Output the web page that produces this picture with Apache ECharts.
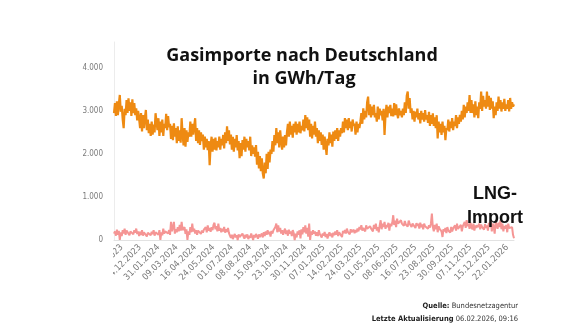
<!DOCTYPE html>
<html>
<head>
<meta charset="utf-8">
<script src="https://cdn.jsdelivr.net/npm/echarts@6/dist/echarts.min.js"></script>
<style>
  html, body { margin: 0; padding: 0; background: #ffffff; }
  #chart { width: 580px; height: 326px; }
</style>
</head>
<body>
<div id="chart"></div>
<script>
// Daily series sampled every second day, first sample on 31.10.2023
const startDate = '2023-10-31';
const stepDays = 2;

// Dates shown on the x axis
const tickLabels = [
  '16.11.2023', '24.12.2023', '31.01.2024', '09.03.2024', '16.04.2024', '24.05.2024',
  '01.07.2024', '08.08.2024', '15.09.2024', '23.10.2024', '30.11.2024', '07.01.2025',
  '14.02.2025', '24.03.2025', '01.05.2025', '08.06.2025', '16.07.2025', '23.08.2025',
  '30.09.2025', '07.11.2025', '15.12.2025', '22.01.2026'
];

// Total gas imports, GWh per day
const gasImport = [
  2950,3180,2880,3220,2900,3150,3370,2980,3120,2800,
  2600,3050,2900,3250,2950,3290,3000,3200,2880,3270,
  2950,3180,2900,3060,2780,3000,2820,2600,2950,2520,
  2900,2600,2850,3020,2550,2800,2480,2700,2420,2750,
  2450,2680,2500,2945,2900,2550,2830,2420,2750,2500,
  2800,2420,2700,2600,2930,2550,2880,2620,2700,2350,
  2650,2320,2710,2400,2600,2250,2640,2300,2550,2260,
  2830,2450,2200,2600,2170,2550,2280,2500,2400,2750,
  2400,2700,2450,2650,2830,2300,2600,2250,2550,2210,
  2500,2300,2450,2100,2400,2150,2350,2090,2300,1740,
  2200,2400,2050,2350,2100,2380,2080,2300,2150,2400,
  2100,2350,2200,2440,2130,2500,2250,2640,2300,2550,
  2220,2450,2100,2400,2050,2350,2150,2440,2080,2300,
  1900,2250,1950,2320,2100,2400,2050,2350,2150,2300,
  2080,2400,1950,2200,2000,2150,1935,2207,1750,2050,
  1664,1950,1600,1900,1550,1430,1800,1550,2000,1650,
  2050,1800,2100,2000,2300,2050,2440,2200,2600,2250,
  2500,2150,2550,2300,2100,2400,2150,2440,2200,2500,
  2700,2400,2750,2450,2650,2380,2700,2500,2750,2450,
  2700,2500,2750,2480,2650,2550,2800,2520,2905,2600,
  2850,2550,2800,2400,2700,2360,2650,2450,2750,2400,
  2600,2250,2550,2300,2500,2210,2450,2100,2400,2200,
  1975,2350,2200,2500,2250,2450,2170,2520,2300,2550,
  2350,2600,2300,2550,2400,2600,2480,2750,2500,2830,
  2600,2800,2550,2830,2600,2750,2520,2800,2650,2700,
  2450,2750,2500,2700,2600,2750,2950,2700,3060,2800,
  3000,2850,3200,3330,2900,3150,2850,3100,2900,3140,
  2850,2950,2750,3100,2800,3050,2900,3000,2780,3050,
  2440,2900,3140,2850,3100,2950,3140,2880,3050,2870,
  3180,2900,3150,2950,2830,3060,2900,3000,2850,3050,
  2900,3200,2950,3350,3450,3050,3300,2950,3060,2800,
  3000,2750,2980,2850,3050,2800,2950,2710,3000,2800,
  2950,2750,3020,2800,2900,2720,2980,2650,2900,2700,
  2945,2650,2850,2600,2900,2360,2750,2500,2700,2440,
  2750,2500,2650,2320,2600,2550,2800,2520,2750,2600,
  2830,2550,2750,2650,2900,2600,2850,2700,2905,2750,
  3000,2800,3140,2850,3100,2950,3200,3000,3370,2950,
  3250,2950,3150,2850,3220,2900,3100,2830,3200,3050,
  3450,3000,3350,3100,3250,3050,3450,3100,3350,3020,
  3300,3050,3220,2830,3100,2900,3200,3000,3330,3050,
  3250,2985,3200,3050,3280,3000,3150,3050,3250,2985,
  3300,3050,3200,3100,3150
];

// LNG imports, GWh per day
const lngImport = [
  150,200,100,240,120,210,0,180,90,230,
  150,265,120,220,180,250,110,200,160,240,
  130,230,170,265,140,200,90,190,120,226,
  100,180,150,210,80,170,130,200,110,190,
  140,226,100,180,150,200,120,230,0,180,
  110,265,150,200,180,240,150,230,120,420,
  200,300,420,150,250,180,300,200,350,220,
  420,230,200,300,140,250,0,200,120,300,
  180,380,200,260,150,230,120,220,180,265,
  140,220,170,240,200,300,180,340,220,280,
  190,300,230,350,400,250,320,200,380,220,
  280,180,260,200,304,170,250,190,280,160,
  100,50,120,20,90,140,60,110,0,130,
  70,100,40,150,80,30,120,60,130,20,
  100,50,150,80,0,120,60,140,90,30,
  130,70,110,150,60,180,90,200,120,226,
  140,190,80,210,150,226,200,300,380,180,
  340,200,280,150,230,120,200,265,140,220,
  100,240,150,200,90,230,160,0,150,60,
  200,120,226,40,250,130,300,180,340,150,
  280,80,380,0,200,120,226,150,200,100,
  180,90,226,140,160,60,150,100,187,70,
  140,32,120,180,90,150,60,170,110,200,
  120,226,90,180,150,200,70,210,160,230,
  150,265,190,220,130,250,180,200,240,160,
  230,180,265,200,300,250,342,220,280,300,
  200,340,260,300,230,320,270,300,200,350,
  260,381,220,300,180,340,459,250,380,300,
  420,260,350,300,400,220,380,320,400,575,
  350,450,300,498,380,420,340,459,380,400,
  330,440,360,400,310,450,380,420,300,380,
  350,420,280,390,330,380,265,400,300,360,
  250,381,320,300,350,260,340,290,380,614,
  300,200,350,250,381,180,320,260,300,200,
  70,250,200,280,160,300,220,250,170,303,
  200,270,250,340,220,381,260,300,230,350,
  200,320,300,420,280,459,320,380,260,400,
  300,250,381,220,340,280,350,300,381,250,
  360,300,330,240,370,280,340,220,400,300,
  459,200,380,300,150,420,350,260,400,300,
  459,250,380,200,330,260,350,180,380,280,
  320,240,300,120,40
];

const pad = n => (n < 10 ? '0' : '') + n;
function buildDates(count) {
  const out = [];
  const t0 = Date.parse(startDate + 'T00:00:00Z');
  for (let i = 0; i < count; i++) {
    const d = new Date(t0 + i * stepDays * 86400000);
    out.push(pad(d.getUTCDate()) + '.' + pad(d.getUTCMonth() + 1) + '.' + d.getUTCFullYear());
  }
  return out;
}
const dates = buildDates(gasImport.length);
const tickSet = new Set(tickLabels);

const axisFont = '"Liberation Sans Narrow", "DejaVu Sans Condensed", "Liberation Sans", sans-serif';
const titleFont = 'bold 18px "Open Sans", "Noto Sans", sans-serif';
const noteFont = '"Liberation Sans Narrow", "DejaVu Sans Condensed", sans-serif';

const chart = echarts.init(document.getElementById('chart'), null, { renderer: 'canvas' });
chart.setOption({
  animation: false,
  backgroundColor: '#ffffff',
  grid: { left: 114, right: 66, top: 42, bottom: 86 },
  xAxis: {
    type: 'category',
    data: dates,
    boundaryGap: false,
    axisLine: { lineStyle: { color: '#e2e2e2', width: 1 } },
    axisTick: { show: false },
    splitLine: { show: false },
    axisLabel: {
      interval: (idx, val) => tickSet.has(val),
      rotate: 45,
      margin: 6,
      fontSize: 9,
      color: '#767676',
      fontFamily: axisFont
    }
  },
  yAxis: {
    type: 'value',
    min: 0,
    max: 4600,
    interval: 1000,
    axisLine: { show: true, lineStyle: { color: '#ececec', width: 1 } },
    axisTick: { show: false },
    splitLine: { show: false },
    axisLabel: {
      showMaxLabel: false,
      margin: 11,
      fontSize: 8,
      color: '#7a7a7a',
      fontFamily: axisFont,
      formatter: v => v.toLocaleString('de-DE')
    }
  },
  series: [
    {
      name: 'Gasimporte',
      type: 'line',
      data: gasImport,
      symbol: 'none',
      lineStyle: { color: '#EE8A12', width: 2.2 },
      z: 3
    },
    {
      name: 'LNG-Import',
      type: 'line',
      data: lngImport,
      symbol: 'none',
      lineStyle: { color: '#F59594', width: 2 },
      z: 2
    }
  ],
  graphic: [
    // white mask over the left end of the date axis
    {
      type: 'rect',
      shape: { x: 0, y: 246, width: 113, height: 80 },
      style: { fill: '#ffffff' },
      z: 50
    },
    {
      type: 'text',
      x: 302, y: 56,
      style: {
        text: 'Gasimporte nach Deutschland',
        font: titleFont,
        fill: '#111111',
        align: 'center', verticalAlign: 'middle',
        textAlign: 'center', textVerticalAlign: 'middle'
      },
      z: 60
    },
    {
      type: 'text',
      x: 304, y: 79,
      style: {
        text: 'in GWh/Tag',
        font: titleFont,
        fill: '#111111',
        align: 'center', verticalAlign: 'middle',
        textAlign: 'center', textVerticalAlign: 'middle'
      },
      z: 60
    },
    {
      type: 'text',
      x: 495, y: 194,
      style: {
        text: 'LNG-',
        font: 'bold 18px "Liberation Sans", Arial, sans-serif',
        fill: '#111111',
        align: 'center', verticalAlign: 'middle',
        textAlign: 'center', textVerticalAlign: 'middle'
      },
      z: 60
    },
    {
      type: 'text',
      x: 495, y: 218,
      style: {
        text: 'Import',
        font: 'bold 18px "Liberation Sans", Arial, sans-serif',
        fill: '#111111',
        align: 'center', verticalAlign: 'middle',
        textAlign: 'center', textVerticalAlign: 'middle'
      },
      z: 60
    },
    {
      type: 'text',
      x: 518, y: 306,
      style: {
        text: '{b|Quelle:} Bundesnetzagentur',
        font: '7.5px ' + noteFont,
        fill: '#333333',
        align: 'right', verticalAlign: 'middle',
        textAlign: 'right', textVerticalAlign: 'middle',
        rich: { b: { fontWeight: 'bold', fill: '#222222', fontSize: 7.5, fontFamily: noteFont } }
      },
      z: 60
    },
    {
      type: 'text',
      x: 518, y: 319,
      style: {
        text: '{b|Letzte Aktualisierung} 06.02.2026, 09:16',
        font: '7.5px ' + noteFont,
        fill: '#333333',
        align: 'right', verticalAlign: 'middle',
        textAlign: 'right', textVerticalAlign: 'middle',
        rich: { b: { fontWeight: 'bold', fill: '#222222', fontSize: 7.5, fontFamily: noteFont } }
      },
      z: 60
    }
  ]
});
</script>
</body>
</html>
